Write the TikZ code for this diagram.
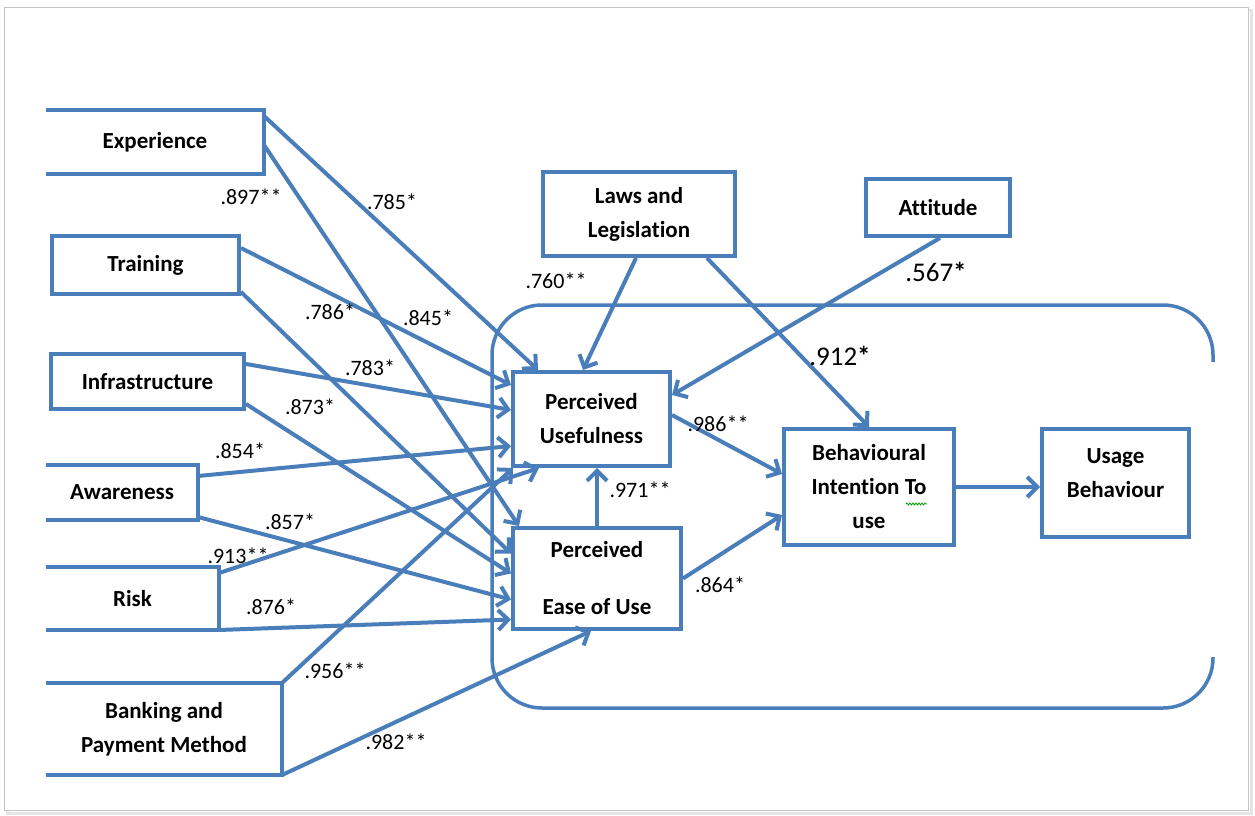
\documentclass[tikz,border=0pt]{standalone}
\usepackage{fontspec}
\setmainfont{Carlito}[Ligatures=NoCommon]
\usetikzlibrary{arrows.meta,calc,decorations.pathmorphing}
\definecolor{tamblue}{HTML}{4A7EBB}
\tikzset{
  factor/.style={draw=tamblue, line width=4pt, fill=white, inner sep=0pt, align=center,
    font=\fontsize{23}{34}\selectfont\bfseries},
  halfbox/.style={factor, draw=none},
  edgeline/.style={draw=tamblue, line width=4pt},
  link/.style={->, draw=tamblue, line width=4pt},
  coef/.style={inner sep=0pt, font=\fontsize{22}{24}\selectfont},
  bigcoef/.style={inner sep=0pt, font=\fontsize{27}{29}\selectfont}
}

\begin{document}
\begin{tikzpicture}[x=1pt, y=-1pt, >={Straight Barb[length=10pt,width=20pt]}]
          \useasboundingbox (0,0) rectangle (1255,816);
          \draw[gray!20, line width=3pt] (7,11) rectangle (1251,813);
          \draw[gray!45, line width=1pt, fill=white] (4,8) rectangle (1248,810);
          \draw[edgeline, line width=3.5pt, rounded corners=50pt] (1213,362) |- (492,305) |- (1213,708) -- (1213,657);

          \node [halfbox, minimum width=214pt, minimum height=60pt] (exper) at (155,142) {Experience};
          \node [factor, minimum width=187pt, minimum height=58pt] (train) at (145.5,265) {Training};
          \node [factor, minimum width=193pt, minimum height=55pt] (infra) at (147.5,381.5) {Infrastructure};
          \node [halfbox, minimum width=148pt, minimum height=51pt] (aware) at (122,492.5) {Awareness};
          \node [halfbox, minimum width=169pt, minimum height=59pt] (risk) at (132.5,598.5) {Risk};
          \node [halfbox, minimum width=232pt, minimum height=88pt] (bank) at (164,729) {Banking and\\Payment Method};
          \draw[edgeline] (exper.north west) -- (exper.north east) -- (exper.south east) -- (exper.south west);
          \draw[edgeline] (aware.north west) -- (aware.north east) -- (aware.south east) -- (aware.south west);
          \draw[edgeline] (risk.north west) -- (risk.north east) -- (risk.south east) -- (risk.south west);
          \draw[edgeline] (bank.north west) -- (bank.north east) -- (bank.south east) -- (bank.south west);

          \node [factor, minimum width=192pt, minimum height=84pt] (laws) at (639,214) {Laws and\\Legislation};
          \node [factor, minimum width=144pt, minimum height=57pt] (attit) at (938,207.5) {Attitude};
          \node [factor, minimum width=157pt, minimum height=94pt] (pu) at (591.5,419) {Perceived\\Usefulness};
          \node [factor, minimum width=168pt, minimum height=101pt] (peou) at (597,578.5) {Perceived\\[23pt]Ease of Use};
          \node [factor, minimum width=170pt, minimum height=116pt] (bi) at (869,487) {Behavioural\\Intention To\\use};
          \node [factor, minimum width=147pt, minimum height=108pt] (usage) at (1115.5,483) {Usage\\Behaviour\\[-14pt]~};
          \draw[green!60!black, line width=0.8pt, decorate, decoration={snake, amplitude=1pt, segment length=3pt}]
            ($(bi.center)+(37,17)$) -- ($(bi.center)+(58,17)$);

          \draw[link] ($(exper.north east)+(0,6)$) -- ($(pu.north west)+(27,0)$);
          \draw[link] ($(exper.east)+(0,3)$) -- ($(peou.north west)+(8,0)$);
          \draw[link] ($(train.north east)+(0,14)$) -- ($(pu.west)+(0,-34)$);
          \draw[link] ($(train.south east)+(0,-4)$) -- ($(peou.west)+(0,-25)$);
          \draw[link] ($(infra.north east)+(0,12)$) -- ($(pu.west)+(0,-9)$);
          \draw[link] ($(infra.south east)+(0,-7)$) -- ($(peou.west)+(0,-5)$);
          \draw[link] ($(aware.north east)+(0,11)$) -- ($(pu.west)+(0,27)$);
          \draw[link] ($(aware.south east)+(0,-3)$) -- ($(peou.west)+(0,21)$);
          \draw[link] ($(risk.north east)+(0,6)$) -- ($(pu.south west)+(28,0)$);
          \draw[link] (risk.south east) -- ($(peou.west)+(0,41)$);
          \draw[link] (bank.north east) -- ($(pu.south west)+(2,0)$);
          \draw[link] (bank.south east) -- ($(peou.south west)+(80,0)$);
          \draw[link] ($(laws.south)+(-3,0)$) -- ($(pu.north west)+(72,0)$);
          \draw[link] ($(laws.south east)+(-30,0)$) -- (bi.north);
          \draw[link] ($(attit.south)+(2,0)$) -- ($(pu.east)+(0,-24)$);
          \draw[link] ($(pu.east)+(0,-4)$) -- ($(bi.west)+(0,-13)$);
          \draw[link] (peou.north) -- (peou.north |- pu.south);
          \draw[link] (peou.east) -- ($(bi.west)+(0,28)$);
          \draw[link] (bi.east) -- (bi.east -| usage.west);

          \node [coef] (c897) at (251,197) {.897**};
          \node [coef] (c785) at (392,202) {.785*};
          \node [coef] (c786) at (330,312) {.786*};
          \node [coef] (c845) at (428,318) {.845*};
          \node [coef] (c783) at (370,368) {.783*};
          \node [coef] (c873) at (310,407) {.873*};
          \node [coef] (c854) at (240,451) {.854*};
          \node [coef] (c857) at (290,522) {.857*};
          \node [coef] (c913) at (238,556) {.913**};
          \node [coef] (c876) at (271,607) {.876*};
          \node [coef] (c956) at (335,671) {.956**};
          \node [coef] (c982) at (396,742) {.982**};
          \node [coef] (c760) at (556,281) {.760**};
          \node [coef] (c986) at (718,424) {.986**};
          \node [coef] (c971) at (640,490) {.971**};
          \node [coef] (c864) at (720,585) {.864*};
          \node [bigcoef] (c567) at (936,272) {.567\textbf{*}};
          \node [bigcoef] (c912) at (840,356) {.912\textbf{*}};
        \end{tikzpicture}
\end{document}
